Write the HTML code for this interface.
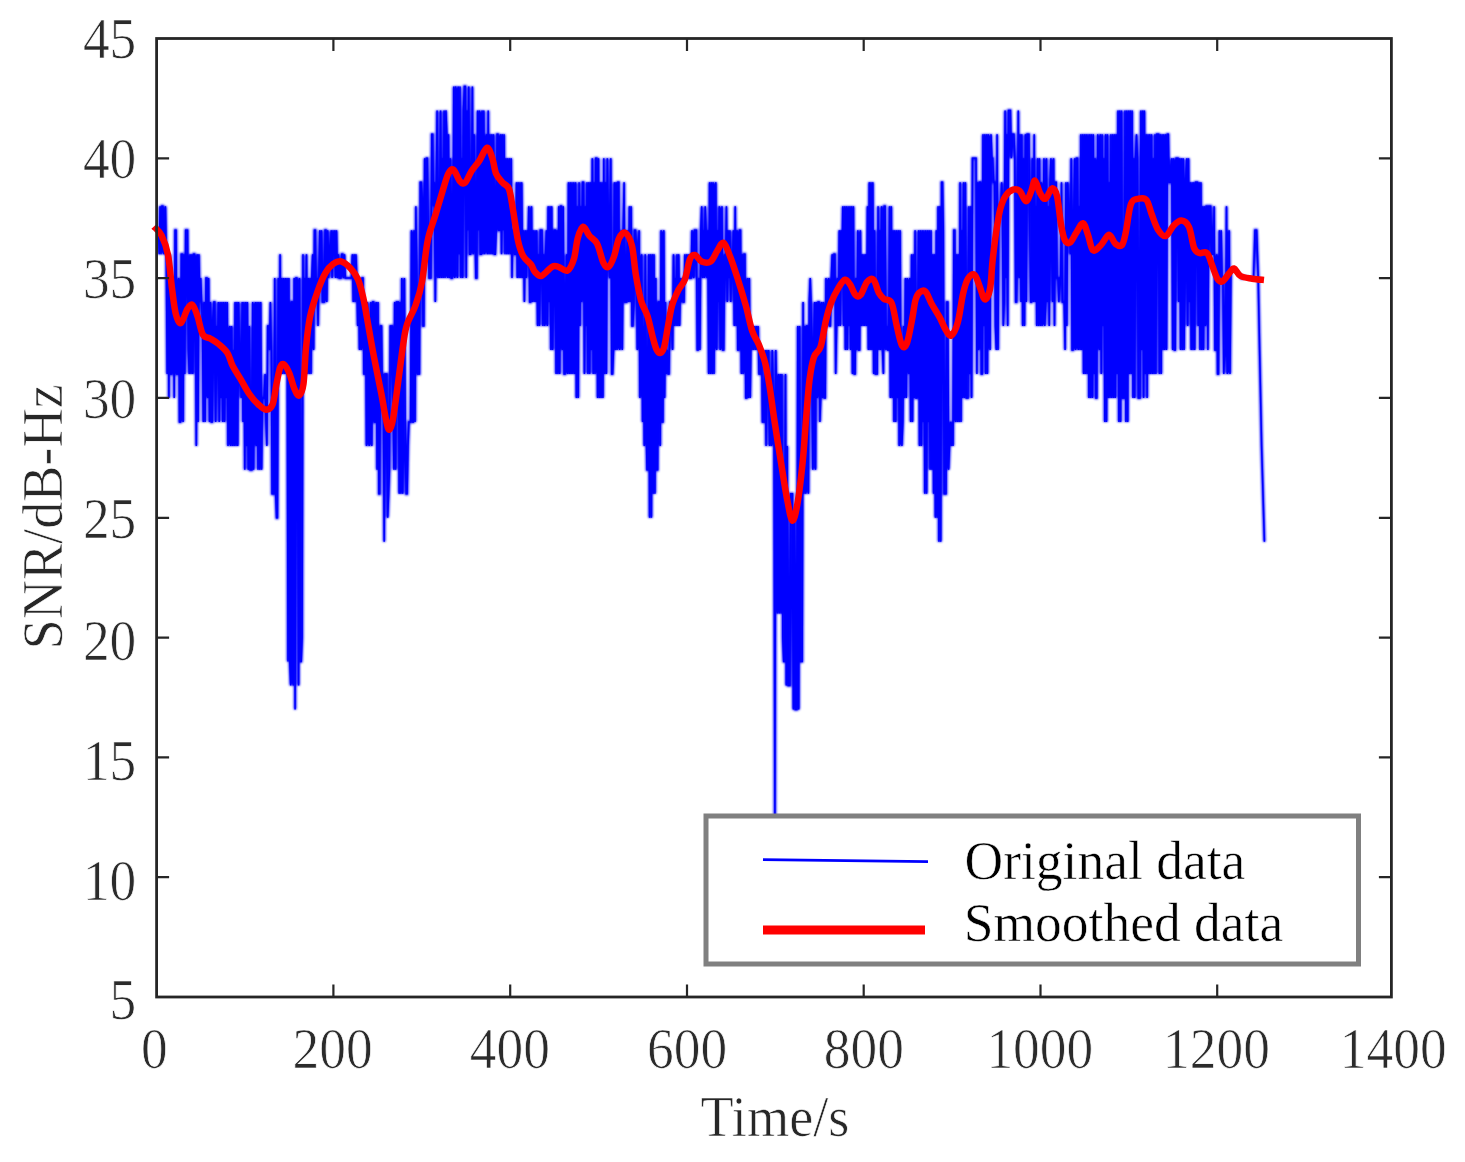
<!DOCTYPE html>
<html lang="en"><head><meta charset="utf-8"><title>SNR smoothing</title>
<style>
html,body{margin:0;padding:0;background:#fff;}
body{width:1465px;height:1162px;overflow:hidden;}
svg{display:block;}
text{font-family:"Liberation Serif","DejaVu Serif",serif;}
.tick{font-size:53.4px;fill:#2b2b2b;stroke:#fff;stroke-width:0.7px;paint-order:fill stroke;}
.lab{font-size:54.3px;fill:#272727;stroke:#fff;stroke-width:0.65px;paint-order:fill stroke;}
.leg{font-size:53.5px;fill:#000;stroke:#fff;stroke-width:0.55px;paint-order:fill stroke;}
</style></head><body>
<svg width="1465" height="1162" viewBox="0 0 1465 1162">
<defs><filter id="soft" x="-2%" y="-2%" width="104%" height="104%"><feGaussianBlur stdDeviation="0.8"/></filter>
<clipPath id="plot"><rect x="156.6" y="38.5" width="1234.8" height="958.5"/></clipPath></defs>
<rect width="1465" height="1162" fill="#fff"/>
<g>
<g clip-path="url(#plot)">
<defs><path id="orig" d="M156.6 230.2L157.5 230.2L158.4 230.2L159.2 254.2L160.1 206.2L161.0 254.2L161.9 206.2L162.8 206.2L163.7 254.2L164.5 230.2L165.4 206.2L166.3 254.2L167.2 374.0L168.1 254.2L168.9 397.9L169.8 254.2L170.7 374.0L171.6 374.0L172.5 278.1L173.4 278.1L174.2 397.9L175.1 230.2L176.0 230.2L176.9 374.0L177.8 374.0L178.7 278.1L179.5 421.9L180.4 421.9L181.3 254.2L182.2 254.2L183.1 421.9L183.9 254.2L184.8 374.0L185.7 230.2L186.6 230.2L187.5 230.2L188.4 350.0L189.2 374.0L190.1 254.2L191.0 374.0L191.9 254.2L192.8 374.0L193.6 254.2L194.5 254.2L195.4 278.1L196.3 445.9L197.2 254.2L198.1 421.9L198.9 254.2L199.8 302.1L200.7 278.1L201.6 302.1L202.5 326.0L203.3 421.9L204.2 302.1L205.1 421.9L206.0 278.1L206.9 278.1L207.8 397.9L208.6 278.1L209.5 421.9L210.4 302.1L211.3 421.9L212.2 421.9L213.0 326.0L213.9 302.1L214.8 302.1L215.7 421.9L216.6 326.0L217.5 374.0L218.3 302.1L219.2 421.9L220.1 302.1L221.0 397.9L221.9 302.1L222.8 421.9L223.6 302.1L224.5 421.9L225.4 302.1L226.3 397.9L227.2 302.1L228.0 445.9L228.9 374.0L229.8 326.0L230.7 445.9L231.6 326.0L232.5 445.9L233.3 350.0L234.2 445.9L235.1 302.1L236.0 445.9L236.9 302.1L237.7 445.9L238.6 302.1L239.5 374.0L240.4 374.0L241.3 397.9L242.2 302.1L243.0 421.9L243.9 302.1L244.8 469.8L245.7 302.1L246.6 445.9L247.4 302.1L248.3 469.8L249.2 326.0L250.1 469.8L251.0 469.8L251.9 469.8L252.7 302.1L253.6 469.8L254.5 350.0L255.4 302.1L256.3 445.9L257.1 302.1L258.0 469.8L258.9 302.1L259.8 469.8L260.7 302.1L261.6 469.8L262.4 397.9L263.3 397.9L264.2 397.9L265.1 374.0L266.0 421.9L266.9 445.9L267.7 326.0L268.6 326.0L269.5 350.0L270.4 302.1L271.3 350.0L272.1 493.8L273.0 493.8L273.9 493.8L274.8 278.1L275.7 493.8L276.6 517.8L277.4 517.8L278.3 278.1L279.2 374.0L280.1 254.2L281.0 374.0L281.8 278.1L282.7 374.0L283.6 278.1L284.5 374.0L285.4 278.1L286.3 374.0L287.1 278.1L288.0 661.5L288.9 278.1L289.8 661.5L290.7 685.5L291.5 302.1L292.4 302.1L293.3 685.5L294.2 278.1L295.1 709.4L296.0 278.1L296.8 278.1L297.7 302.1L298.6 685.5L299.5 278.1L300.4 661.5L301.2 661.5L302.1 637.6L303.0 254.2L303.9 374.0L304.8 278.1L305.7 374.0L306.5 254.2L307.4 374.0L308.3 278.1L309.2 374.0L310.1 278.1L311.0 374.0L311.8 278.1L312.7 254.2L313.6 350.0L314.5 230.2L315.4 230.2L316.2 302.1L317.1 278.1L318.0 326.0L318.9 278.1L319.8 230.2L320.7 278.1L321.5 230.2L322.4 302.1L323.3 302.1L324.2 302.1L325.1 230.2L325.9 230.2L326.8 302.1L327.7 230.2L328.6 278.1L329.5 254.2L330.4 254.2L331.2 230.2L332.1 278.1L333.0 230.2L333.9 254.2L334.8 230.2L335.6 278.1L336.5 230.2L337.4 278.1L338.3 254.2L339.2 278.1L340.1 278.1L340.9 278.1L341.8 254.2L342.7 254.2L343.6 278.1L344.5 254.2L345.3 278.1L346.2 278.1L347.1 278.1L348.0 278.1L348.9 278.1L349.8 278.1L350.6 278.1L351.5 278.1L352.4 254.2L353.3 302.1L354.2 254.2L355.1 302.1L355.9 254.2L356.8 278.1L357.7 326.0L358.6 278.1L359.5 350.0L360.3 278.1L361.2 350.0L362.1 278.1L363.0 278.1L363.9 374.0L364.8 374.0L365.6 302.1L366.5 445.9L367.4 302.1L368.3 350.0L369.2 445.9L370.0 374.0L370.9 302.1L371.8 445.9L372.7 302.1L373.6 302.1L374.5 421.9L375.3 421.9L376.2 302.1L377.1 469.8L378.0 302.1L378.9 493.8L379.7 493.8L380.6 326.0L381.5 326.0L382.4 397.9L383.3 374.0L384.2 541.7L385.0 374.0L385.9 374.0L386.8 374.0L387.7 517.8L388.6 493.8L389.4 469.8L390.3 326.0L391.2 326.0L392.1 326.0L393.0 397.9L393.9 469.8L394.7 302.1L395.6 469.8L396.5 302.1L397.4 302.1L398.3 302.1L399.2 493.8L400.0 302.1L400.9 493.8L401.8 278.1L402.7 493.8L403.6 326.0L404.4 278.1L405.3 445.9L406.2 493.8L407.1 493.8L408.0 445.9L408.9 421.9L409.7 421.9L410.6 421.9L411.5 230.2L412.4 421.9L413.3 421.9L414.1 230.2L415.0 421.9L415.9 206.2L416.8 278.1L417.7 374.0L418.6 374.0L419.4 374.0L420.3 182.3L421.2 182.3L422.1 206.2L423.0 326.0L423.8 326.0L424.7 158.3L425.6 254.2L426.5 158.3L427.4 158.3L428.3 230.2L429.1 278.1L430.0 278.1L430.9 278.1L431.8 134.3L432.7 134.3L433.5 206.2L434.4 182.3L435.3 302.1L436.2 206.2L437.1 110.4L438.0 278.1L438.8 182.3L439.7 278.1L440.6 110.4L441.5 278.1L442.4 158.3L443.2 278.1L444.1 110.4L445.0 278.1L445.9 110.4L446.8 134.3L447.7 278.1L448.5 134.3L449.4 278.1L450.3 158.3L451.2 278.1L452.1 278.1L453.0 254.2L453.8 86.4L454.7 278.1L455.6 86.4L456.5 110.4L457.4 278.1L458.2 86.4L459.1 254.2L460.0 86.4L460.9 278.1L461.8 158.3L462.7 278.1L463.5 110.4L464.4 86.4L465.3 86.4L466.2 278.1L467.1 110.4L467.9 230.2L468.8 86.4L469.7 254.2L470.6 254.2L471.5 230.2L472.4 86.4L473.2 254.2L474.1 134.3L475.0 230.2L475.9 278.1L476.8 278.1L477.6 110.4L478.5 230.2L479.4 110.4L480.3 254.2L481.2 254.2L482.1 110.4L482.9 254.2L483.8 110.4L484.7 254.2L485.6 230.2L486.5 134.3L487.4 254.2L488.2 110.4L489.1 254.2L490.0 134.3L490.9 254.2L491.8 134.3L492.6 254.2L493.5 134.3L494.4 254.2L495.3 254.2L496.2 230.2L497.1 134.3L497.9 134.3L498.8 230.2L499.7 230.2L500.6 134.3L501.5 254.2L502.3 134.3L503.2 230.2L504.1 134.3L505.0 254.2L505.9 158.3L506.8 254.2L507.6 158.3L508.5 254.2L509.4 158.3L510.3 254.2L511.2 158.3L512.0 278.1L512.9 230.2L513.8 230.2L514.7 254.2L515.6 254.2L516.5 182.3L517.3 278.1L518.2 182.3L519.1 278.1L520.0 182.3L520.9 278.1L521.7 182.3L522.6 278.1L523.5 230.2L524.4 302.1L525.3 230.2L526.2 278.1L527.0 230.2L527.9 254.2L528.8 206.2L529.7 302.1L530.6 302.1L531.5 206.2L532.3 302.1L533.2 230.2L534.1 302.1L535.0 230.2L535.9 302.1L536.7 230.2L537.6 326.0L538.5 254.2L539.4 326.0L540.3 230.2L541.2 230.2L542.0 230.2L542.9 326.0L543.8 254.2L544.7 326.0L545.6 254.2L546.4 230.2L547.3 326.0L548.2 206.2L549.1 302.1L550.0 206.2L550.9 350.0L551.7 206.2L552.6 350.0L553.5 254.2L554.4 230.2L555.3 230.2L556.1 374.0L557.0 230.2L557.9 374.0L558.8 206.2L559.7 374.0L560.6 206.2L561.4 206.2L562.3 350.0L563.2 206.2L564.1 374.0L565.0 374.0L565.8 326.0L566.7 254.2L567.6 374.0L568.5 182.3L569.4 374.0L570.3 182.3L571.1 374.0L572.0 182.3L572.9 374.0L573.8 182.3L574.7 374.0L575.6 182.3L576.4 397.9L577.3 206.2L578.2 397.9L579.1 182.3L580.0 326.0L580.8 206.2L581.7 302.1L582.6 182.3L583.5 182.3L584.4 374.0L585.3 206.2L586.1 326.0L587.0 182.3L587.9 374.0L588.8 182.3L589.7 374.0L590.5 182.3L591.4 350.0L592.3 158.3L593.2 374.0L594.1 182.3L595.0 374.0L595.8 158.3L596.7 158.3L597.6 397.9L598.5 158.3L599.4 397.9L600.2 182.3L601.1 397.9L602.0 182.3L602.9 397.9L603.8 158.3L604.7 374.0L605.5 182.3L606.4 374.0L607.3 158.3L608.2 254.2L609.1 254.2L609.9 278.1L610.8 158.3L611.7 374.0L612.6 374.0L613.5 350.0L614.4 182.3L615.2 350.0L616.1 182.3L617.0 350.0L617.9 182.3L618.8 182.3L619.7 350.0L620.5 278.1L621.4 230.2L622.3 350.0L623.2 230.2L624.1 182.3L624.9 302.1L625.8 302.1L626.7 302.1L627.6 230.2L628.5 302.1L629.4 206.2L630.2 302.1L631.1 206.2L632.0 326.0L632.9 326.0L633.8 302.1L634.6 230.2L635.5 230.2L636.4 254.2L637.3 350.0L638.2 254.2L639.1 230.2L639.9 397.9L640.8 374.0L641.7 254.2L642.6 421.9L643.5 326.0L644.3 445.9L645.2 254.2L646.1 421.9L647.0 469.8L647.9 469.8L648.8 254.2L649.6 517.8L650.5 254.2L651.4 517.8L652.3 254.2L653.2 493.8L654.0 254.2L654.9 493.8L655.8 278.1L656.7 469.8L657.6 469.8L658.5 302.1L659.3 302.1L660.2 445.9L661.1 230.2L662.0 421.9L662.9 421.9L663.8 230.2L664.6 397.9L665.5 302.1L666.4 374.0L667.3 350.0L668.2 374.0L669.0 374.0L669.9 302.1L670.8 302.1L671.7 302.1L672.6 350.0L673.5 254.2L674.3 326.0L675.2 278.1L676.1 326.0L677.0 254.2L677.9 326.0L678.7 254.2L679.6 326.0L680.5 278.1L681.4 302.1L682.3 278.1L683.2 302.1L684.0 302.1L684.9 254.2L685.8 278.1L686.7 254.2L687.6 278.1L688.4 254.2L689.3 278.1L690.2 278.1L691.1 278.1L692.0 230.2L692.9 254.2L693.7 278.1L694.6 230.2L695.5 230.2L696.4 230.2L697.3 350.0L698.1 350.0L699.0 278.1L699.9 350.0L700.8 230.2L701.7 206.2L702.6 278.1L703.4 230.2L704.3 278.1L705.2 206.2L706.1 230.2L707.0 278.1L707.9 230.2L708.7 374.0L709.6 182.3L710.5 374.0L711.4 182.3L712.3 374.0L713.1 182.3L714.0 374.0L714.9 230.2L715.8 182.3L716.7 350.0L717.6 230.2L718.4 302.1L719.3 206.2L720.2 350.0L721.1 230.2L722.0 206.2L722.8 350.0L723.7 350.0L724.6 254.2L725.5 278.1L726.4 206.2L727.3 302.1L728.1 230.2L729.0 278.1L729.9 230.2L730.8 302.1L731.7 254.2L732.5 278.1L733.4 230.2L734.3 326.0L735.2 206.2L736.1 326.0L737.0 230.2L737.8 350.0L738.7 350.0L739.6 230.2L740.5 230.2L741.4 374.0L742.2 254.2L743.1 374.0L744.0 254.2L744.9 254.2L745.8 397.9L746.7 397.9L747.5 278.1L748.4 397.9L749.3 278.1L750.2 397.9L751.1 326.0L752.0 350.0L752.8 326.0L753.7 350.0L754.6 326.0L755.5 350.0L756.4 326.0L757.2 350.0L758.1 326.0L759.0 374.0L759.9 374.0L760.8 374.0L761.7 350.0L762.5 421.9L763.4 421.9L764.3 421.9L765.2 350.0L766.1 445.9L766.9 350.0L767.8 397.9L768.7 350.0L769.6 445.9L770.5 397.9L771.4 445.9L772.2 350.0L773.1 397.9L774.0 397.9L774.9 829.3L775.8 350.0L776.6 397.9L777.5 613.6L778.4 374.0L779.3 613.6L780.2 374.0L781.1 613.6L781.9 374.0L782.8 637.6L783.7 661.5L784.6 661.5L785.5 374.0L786.3 685.5L787.2 445.9L788.1 685.5L789.0 685.5L789.9 685.5L790.8 493.8L791.6 493.8L792.5 493.8L793.4 709.4L794.3 517.8L795.2 709.4L796.1 709.4L796.9 709.4L797.8 326.0L798.7 709.4L799.6 326.0L800.5 661.5L801.3 661.5L802.2 661.5L803.1 302.1L804.0 493.8L804.9 326.0L805.8 493.8L806.6 326.0L807.5 326.0L808.4 493.8L809.3 302.1L810.2 278.1L811.0 302.1L811.9 374.0L812.8 469.8L813.7 374.0L814.6 302.1L815.5 469.8L816.3 302.1L817.2 397.9L818.1 302.1L819.0 302.1L819.9 421.9L820.7 397.9L821.6 302.1L822.5 397.9L823.4 302.1L824.3 397.9L825.2 397.9L826.0 278.1L826.9 326.0L827.8 302.1L828.7 278.1L829.6 326.0L830.4 326.0L831.3 278.1L832.2 254.2L833.1 302.1L834.0 254.2L834.9 254.2L835.7 374.0L836.6 326.0L837.5 278.1L838.4 326.0L839.3 230.2L840.2 326.0L841.0 230.2L841.9 278.1L842.8 206.2L843.7 326.0L844.6 206.2L845.4 350.0L846.3 206.2L847.2 350.0L848.1 206.2L849.0 326.0L849.9 206.2L850.7 350.0L851.6 206.2L852.5 374.0L853.4 206.2L854.3 374.0L855.1 374.0L856.0 278.1L856.9 350.0L857.8 230.2L858.7 350.0L859.6 350.0L860.4 230.2L861.3 326.0L862.2 254.2L863.1 326.0L864.0 254.2L864.8 326.0L865.7 254.2L866.6 326.0L867.5 206.2L868.4 350.0L869.3 182.3L870.1 350.0L871.0 182.3L871.9 350.0L872.8 182.3L873.7 374.0L874.5 230.2L875.4 374.0L876.3 374.0L877.2 374.0L878.1 206.2L879.0 350.0L879.8 230.2L880.7 350.0L881.6 206.2L882.5 350.0L883.4 374.0L884.3 206.2L885.1 206.2L886.0 350.0L886.9 326.0L887.8 350.0L888.7 350.0L889.5 206.2L890.4 397.9L891.3 206.2L892.2 397.9L893.1 230.2L894.0 421.9L894.8 230.2L895.7 421.9L896.6 230.2L897.5 397.9L898.4 230.2L899.2 445.9L900.1 230.2L901.0 397.9L901.9 445.9L902.8 421.9L903.7 326.0L904.5 397.9L905.4 278.1L906.3 397.9L907.2 278.1L908.1 302.1L908.9 374.0L909.8 278.1L910.7 421.9L911.6 254.2L912.5 421.9L913.4 254.2L914.2 397.9L915.1 230.2L916.0 397.9L916.9 397.9L917.8 374.0L918.6 230.2L919.5 445.9L920.4 230.2L921.3 445.9L922.2 230.2L923.1 421.9L923.9 230.2L924.8 493.8L925.7 230.2L926.6 493.8L927.5 230.2L928.4 421.9L929.2 230.2L930.1 469.8L931.0 230.2L931.9 469.8L932.8 254.2L933.6 493.8L934.5 254.2L935.4 517.8L936.3 230.2L937.2 517.8L938.1 206.2L938.9 541.7L939.8 206.2L940.7 541.7L941.6 182.3L942.5 182.3L943.3 230.2L944.2 493.8L945.1 493.8L946.0 493.8L946.9 302.1L947.8 302.1L948.6 469.8L949.5 445.9L950.4 421.9L951.3 445.9L952.2 421.9L953.0 445.9L953.9 230.2L954.8 230.2L955.7 421.9L956.6 254.2L957.5 421.9L958.3 254.2L959.2 421.9L960.1 182.3L961.0 421.9L961.9 230.2L962.7 397.9L963.6 182.3L964.5 397.9L965.4 182.3L966.3 397.9L967.2 397.9L968.0 397.9L968.9 206.2L969.8 374.0L970.7 206.2L971.6 397.9L972.5 158.3L973.3 158.3L974.2 158.3L975.1 158.3L976.0 158.3L976.9 374.0L977.7 182.3L978.6 350.0L979.5 182.3L980.4 182.3L981.3 374.0L982.2 374.0L983.0 134.3L983.9 326.0L984.8 134.3L985.7 374.0L986.6 134.3L987.4 374.0L988.3 134.3L989.2 326.0L990.1 350.0L991.0 134.3L991.9 158.3L992.7 158.3L993.6 182.3L994.5 182.3L995.4 326.0L996.3 350.0L997.1 134.3L998.0 350.0L998.9 206.2L999.8 206.2L1000.7 206.2L1001.6 182.3L1002.4 206.2L1003.3 326.0L1004.2 302.1L1005.1 110.4L1006.0 278.1L1006.8 134.3L1007.7 326.0L1008.6 110.4L1009.5 110.4L1010.4 110.4L1011.3 158.3L1012.1 134.3L1013.0 134.3L1013.9 134.3L1014.8 158.3L1015.7 302.1L1016.6 302.1L1017.4 254.2L1018.3 110.4L1019.2 278.1L1020.1 134.3L1021.0 302.1L1021.8 134.3L1022.7 326.0L1023.6 158.3L1024.5 326.0L1025.4 134.3L1026.3 302.1L1027.1 134.3L1028.0 134.3L1028.9 134.3L1029.8 230.2L1030.7 302.1L1031.5 302.1L1032.4 158.3L1033.3 302.1L1034.2 134.3L1035.1 302.1L1036.0 206.2L1036.8 326.0L1037.7 158.3L1038.6 326.0L1039.5 158.3L1040.4 326.0L1041.2 182.3L1042.1 326.0L1043.0 278.1L1043.9 158.3L1044.8 326.0L1045.7 302.1L1046.5 158.3L1047.4 302.1L1048.3 206.2L1049.2 326.0L1050.1 182.3L1050.9 158.3L1051.8 206.2L1052.7 302.1L1053.6 158.3L1054.5 326.0L1055.4 182.3L1056.2 182.3L1057.1 278.1L1058.0 278.1L1058.9 302.1L1059.8 278.1L1060.7 278.1L1061.5 182.3L1062.4 302.1L1063.3 302.1L1064.2 302.1L1065.1 350.0L1065.9 182.3L1066.8 326.0L1067.7 182.3L1068.6 230.2L1069.5 206.2L1070.4 254.2L1071.2 158.3L1072.1 350.0L1073.0 350.0L1073.9 230.2L1074.8 158.3L1075.6 350.0L1076.5 158.3L1077.4 158.3L1078.3 350.0L1079.2 206.2L1080.1 350.0L1080.9 134.3L1081.8 350.0L1082.7 134.3L1083.6 374.0L1084.5 134.3L1085.3 374.0L1086.2 134.3L1087.1 374.0L1088.0 134.3L1088.9 397.9L1089.8 134.3L1090.6 397.9L1091.5 134.3L1092.4 397.9L1093.3 134.3L1094.2 374.0L1095.0 158.3L1095.9 397.9L1096.8 397.9L1097.7 134.3L1098.6 158.3L1099.5 350.0L1100.3 134.3L1101.2 374.0L1102.1 134.3L1103.0 326.0L1103.9 158.3L1104.8 421.9L1105.6 134.3L1106.5 421.9L1107.4 134.3L1108.3 397.9L1109.2 182.3L1110.0 397.9L1110.9 134.3L1111.8 397.9L1112.7 134.3L1113.6 397.9L1114.5 134.3L1115.3 397.9L1116.2 134.3L1117.1 374.0L1118.0 110.4L1118.9 421.9L1119.7 110.4L1120.6 421.9L1121.5 110.4L1122.4 397.9L1123.3 397.9L1124.2 397.9L1125.0 110.4L1125.9 421.9L1126.8 110.4L1127.7 421.9L1128.6 110.4L1129.4 374.0L1130.3 110.4L1131.2 374.0L1132.1 110.4L1133.0 397.9L1133.9 158.3L1134.7 397.9L1135.6 158.3L1136.5 134.3L1137.4 158.3L1138.3 397.9L1139.1 397.9L1140.0 397.9L1140.9 110.4L1141.8 350.0L1142.7 110.4L1143.6 397.9L1144.4 110.4L1145.3 374.0L1146.2 134.3L1147.1 397.9L1148.0 134.3L1148.9 374.0L1149.7 134.3L1150.6 374.0L1151.5 134.3L1152.4 374.0L1153.3 158.3L1154.1 374.0L1155.0 134.3L1155.9 374.0L1156.8 134.3L1157.7 134.3L1158.6 134.3L1159.4 374.0L1160.3 134.3L1161.2 374.0L1162.1 134.3L1163.0 350.0L1163.8 134.3L1164.7 350.0L1165.6 134.3L1166.5 350.0L1167.4 134.3L1168.3 134.3L1169.1 182.3L1170.0 182.3L1170.9 182.3L1171.8 158.3L1172.7 350.0L1173.5 158.3L1174.4 350.0L1175.3 350.0L1176.2 158.3L1177.1 158.3L1178.0 158.3L1178.8 302.1L1179.7 158.3L1180.6 350.0L1181.5 158.3L1182.4 350.0L1183.2 158.3L1184.1 350.0L1185.0 254.2L1185.9 182.3L1186.8 158.3L1187.7 326.0L1188.5 158.3L1189.4 302.1L1190.3 182.3L1191.2 350.0L1192.1 182.3L1193.0 350.0L1193.8 182.3L1194.7 350.0L1195.6 182.3L1196.5 182.3L1197.4 182.3L1198.2 326.0L1199.1 182.3L1200.0 350.0L1200.9 182.3L1201.8 350.0L1202.7 206.2L1203.5 350.0L1204.4 206.2L1205.3 326.0L1206.2 206.2L1207.1 206.2L1207.9 350.0L1208.8 206.2L1209.7 206.2L1210.6 206.2L1211.5 254.2L1212.4 254.2L1213.2 254.2L1214.1 206.2L1215.0 350.0L1215.9 350.0L1216.8 254.2L1217.6 374.0L1218.5 374.0L1219.4 230.2L1220.3 278.1L1221.2 230.2L1222.1 278.1L1222.9 278.1L1223.8 374.0L1224.7 350.0L1225.6 350.0L1226.5 206.2L1227.3 374.0L1228.2 326.0L1229.1 230.2L1230.0 374.0L1230.9 271.6L1231.8 270.7L1232.6 269.8L1233.5 268.9L1234.4 268.9L1235.3 269.9L1236.2 270.9L1237.0 271.9L1237.9 272.9L1238.8 273.9L1239.7 275.0L1240.6 276.0L1241.5 278.1L1242.3 278.1L1243.2 276.6L1244.1 276.8L1245.0 277.0L1245.9 277.2L1246.8 277.4L1247.6 277.6L1248.5 277.8L1249.4 278.0L1250.3 278.2L1251.2 278.4L1252.0 278.6L1252.9 278.8L1253.6 276.9L1255.0 230.2L1256.6 230.2L1258.2 278.1L1259.6 350.0L1261.6 445.9L1264.4 541.7"/></defs>
<use href="#orig" fill="none" stroke="#0000ff" stroke-width="2.7" stroke-linejoin="miter" stroke-miterlimit="2" filter="url(#soft)"/>
<use href="#orig" fill="none" stroke="#0000ff" stroke-width="1.5" stroke-linejoin="miter" stroke-miterlimit="2"/>
</g>
<path d="M153.9 226.5C155.2 228.0 159.2 230.8 161.6 235.5C163.9 240.2 166.3 246.0 168.0 254.8C169.7 263.6 170.7 278.5 172.0 288.4C173.3 298.3 174.3 308.2 175.8 314.0C177.3 319.8 179.1 323.8 181.0 323.0C182.9 322.2 185.5 312.0 187.4 309.0C189.3 306.0 190.9 303.7 192.6 305.0C194.3 306.3 196.0 311.8 197.7 316.8C199.4 321.8 200.8 331.2 203.0 334.8C205.2 338.4 208.0 337.2 210.6 338.7C213.2 340.2 215.6 341.5 218.4 343.9C221.2 346.3 225.0 349.2 227.4 352.9C229.8 356.5 230.4 361.5 232.6 365.8C234.8 370.1 237.5 374.0 240.3 378.7C243.1 383.4 246.4 389.9 249.4 394.2C252.4 398.5 255.6 401.9 258.4 404.5C261.2 407.1 263.6 409.7 266.0 409.7C268.4 409.7 270.9 408.8 272.6 404.5C274.4 400.2 275.2 390.1 276.5 383.9C277.8 377.6 279.0 370.2 280.3 367.0C281.6 363.8 282.7 363.4 284.2 364.5C285.7 365.6 287.7 369.4 289.4 373.5C291.1 377.6 292.9 385.3 294.5 389.0C296.1 392.7 297.7 396.4 299.2 395.5C300.7 394.6 302.4 391.9 303.5 383.9C304.6 375.9 304.9 358.9 306.0 347.7C307.1 336.5 308.1 326.2 310.0 316.8C311.9 307.4 315.1 298.3 317.7 291.0C320.3 283.7 322.9 277.4 325.5 272.9C328.1 268.4 330.6 265.8 333.2 263.9C335.8 262.0 338.1 260.6 341.0 261.3C343.9 262.0 347.5 265.0 350.3 268.0C353.1 271.0 355.9 274.5 358.0 279.4C360.1 284.3 361.7 291.0 363.2 297.4C364.7 303.8 365.3 308.5 367.0 318.0C368.7 327.5 371.1 341.9 373.5 354.5C375.9 367.1 379.1 382.2 381.3 393.5C383.5 404.8 385.1 416.0 386.5 422.0C387.9 428.0 388.4 430.1 389.5 429.7C390.6 429.3 391.6 427.1 393.0 419.4C394.4 411.6 396.3 395.7 398.0 383.2C399.7 370.7 401.7 354.3 403.2 344.5C404.7 334.7 404.9 331.0 407.0 324.5C409.1 318.0 413.0 312.6 415.5 305.5C418.0 298.4 420.0 292.8 422.0 282.0C424.0 271.2 425.4 251.8 427.7 240.6C429.9 229.4 432.9 223.4 435.5 214.8C438.1 206.2 441.1 195.9 443.2 189.0C445.3 182.1 446.7 176.7 448.4 173.5C450.1 170.3 451.6 168.4 453.5 169.7C455.4 171.0 458.1 179.2 460.0 181.3C461.9 183.5 463.3 184.3 465.2 182.6C467.1 180.9 469.2 174.7 471.6 171.0C474.0 167.3 476.8 164.5 479.4 160.6C482.0 156.7 484.9 148.1 487.0 147.7C489.1 147.3 490.8 153.7 492.3 158.0C493.8 162.3 494.3 169.4 496.0 173.5C497.7 177.6 500.4 180.0 502.6 182.6C504.8 185.2 507.3 184.5 509.0 189.0C510.7 193.5 511.5 201.1 513.0 209.7C514.5 218.3 516.3 232.9 518.0 240.6C519.7 248.3 521.0 252.0 523.2 256.0C525.4 260.0 529.0 261.8 531.0 264.5C533.0 267.2 533.2 270.1 535.0 272.0C536.8 273.9 538.8 276.7 541.6 275.8C544.4 274.9 549.2 268.3 552.0 266.8C554.8 265.3 555.8 266.2 558.4 266.8C561.0 267.4 564.8 271.9 567.4 270.6C570.0 269.3 572.2 264.4 573.9 259.0C575.6 253.6 576.2 243.8 577.7 238.4C579.2 233.0 581.0 227.2 583.0 226.8C585.0 226.4 587.1 233.0 589.4 235.8C591.7 238.6 594.6 239.0 597.0 243.5C599.4 248.0 601.5 259.1 603.5 263.0C605.5 266.9 607.0 267.9 608.7 266.8C610.5 265.7 612.3 261.2 614.0 256.5C615.7 251.8 617.1 242.3 619.0 238.4C620.9 234.5 623.3 231.7 625.5 233.0C627.7 234.3 630.3 239.1 632.0 246.0C633.7 252.9 634.3 265.4 635.8 274.5C637.3 283.6 639.1 293.4 641.0 300.3C642.9 307.2 645.5 309.8 647.4 315.8C649.3 321.8 651.1 330.9 652.6 336.5C654.1 342.1 655.2 346.6 656.5 349.4C657.8 352.1 659.0 353.4 660.3 353.0C661.6 352.6 662.9 351.3 664.2 346.8C665.5 342.3 666.7 332.9 668.0 326.0C669.3 319.1 670.3 311.5 672.0 305.5C673.7 299.5 676.3 294.3 678.4 290.0C680.5 285.7 682.9 284.9 684.8 279.7C686.7 274.5 688.3 263.1 690.0 259.0C691.7 254.9 693.1 254.6 695.0 255.0C696.9 255.4 699.0 260.5 701.6 261.6C704.2 262.7 708.0 263.3 710.6 261.6C713.2 259.9 714.9 254.4 717.0 251.3C719.1 248.2 721.3 241.9 723.5 242.8C725.7 243.8 727.9 250.8 730.3 257.0C732.7 263.1 735.4 271.6 738.0 279.7C740.6 287.8 743.4 296.9 745.8 305.5C748.2 314.1 750.1 324.9 752.3 331.3C754.4 337.8 756.6 339.0 758.7 344.2C760.8 349.4 763.2 355.3 765.0 362.3C766.8 369.3 767.9 376.2 769.5 386.0C771.1 395.8 772.6 408.7 774.5 421.0C776.4 433.3 778.5 447.1 780.6 460.0C782.7 472.9 785.0 488.6 787.0 498.7C789.0 508.8 790.6 519.7 792.3 520.6C794.0 521.5 795.7 513.6 797.4 503.9C799.1 494.2 801.1 477.1 802.6 462.6C804.1 448.1 805.1 430.8 806.2 417.0C807.4 403.2 808.2 390.0 809.5 380.0C810.8 370.0 812.1 362.5 814.0 357.0C815.9 351.5 818.6 352.8 820.6 346.8C822.6 340.8 824.1 328.3 825.8 321.0C827.5 313.7 828.9 308.6 831.0 303.0C833.1 297.4 836.4 291.3 838.7 287.4C841.0 283.5 843.1 280.1 845.0 279.7C846.9 279.3 848.5 282.2 850.3 284.8C852.0 287.4 853.8 293.3 855.5 295.0C857.2 296.7 858.7 297.2 860.6 295.0C862.5 292.8 864.9 284.6 867.0 282.0C869.1 279.4 871.5 277.9 873.5 279.7C875.5 281.5 877.0 289.4 878.7 292.6C880.5 295.8 881.9 297.3 884.0 299.0C886.1 300.7 889.5 298.5 891.6 303.0C893.7 307.5 895.1 318.9 896.8 326.0C898.5 333.1 900.3 342.7 902.0 345.5C903.7 348.3 905.3 347.5 907.0 343.0C908.7 338.5 910.9 325.6 912.3 318.4C913.7 311.2 914.3 304.3 915.5 300.0C916.7 295.7 917.8 293.9 919.5 292.5C921.2 291.1 923.4 289.6 925.5 291.6C927.6 293.6 929.6 300.2 932.0 304.5C934.4 308.8 937.4 313.1 939.7 317.4C942.0 321.7 944.1 327.3 946.0 330.3C947.9 333.3 949.3 336.8 951.3 335.5C953.2 334.2 955.8 329.5 957.7 322.6C959.7 315.7 961.3 301.3 963.0 294.0C964.7 286.7 966.1 281.9 968.0 278.7C969.9 275.5 972.5 273.5 974.5 274.8C976.5 276.1 978.0 282.4 979.7 286.5C981.4 290.6 983.1 299.0 984.8 299.4C986.5 299.8 988.7 295.5 990.0 289.0C991.3 282.5 991.5 270.5 992.6 260.6C993.7 250.7 995.2 238.3 996.5 229.7C997.8 221.1 998.8 214.6 1000.3 209.0C1001.8 203.4 1003.4 199.2 1005.5 196.0C1007.6 192.8 1010.6 190.5 1013.0 189.7C1015.4 188.9 1017.5 189.1 1019.7 191.0C1021.9 192.9 1024.1 201.3 1026.0 201.3C1027.9 201.3 1029.8 194.4 1031.3 191.0C1032.8 187.6 1033.5 180.2 1035.0 180.6C1036.5 181.0 1038.5 190.5 1040.3 193.5C1042.0 196.5 1043.5 199.5 1045.5 198.7C1047.5 197.8 1050.1 188.8 1052.0 188.4C1053.9 188.0 1055.5 190.0 1057.0 196.0C1058.5 202.0 1059.7 217.2 1061.0 224.5C1062.3 231.8 1063.3 237.0 1064.8 240.0C1066.3 243.0 1068.0 243.9 1070.0 242.6C1072.0 241.3 1074.3 235.5 1076.5 232.3C1078.7 229.1 1081.1 222.8 1083.0 223.2C1084.9 223.6 1086.3 230.3 1088.0 234.8C1089.7 239.3 1090.8 248.6 1093.0 250.3C1095.2 252.0 1098.3 247.6 1101.0 245.0C1103.7 242.4 1106.6 235.0 1109.0 234.8C1111.4 234.6 1113.3 242.2 1115.5 243.9C1117.7 245.6 1120.3 246.9 1122.0 245.0C1123.7 243.1 1124.3 239.2 1125.8 232.3C1127.3 225.5 1128.8 209.5 1131.0 203.9C1133.2 198.3 1136.1 199.3 1138.7 198.7C1141.3 198.0 1144.3 197.4 1146.5 200.0C1148.7 202.6 1149.7 209.1 1151.6 214.0C1153.5 218.9 1155.6 226.0 1158.0 229.7C1160.4 233.4 1163.2 236.7 1165.8 236.0C1168.4 235.3 1170.9 228.4 1173.5 225.8C1176.1 223.2 1178.7 220.4 1181.3 220.6C1183.9 220.8 1186.9 222.5 1189.0 227.0C1191.1 231.5 1192.3 243.4 1194.0 247.7C1195.7 252.0 1197.2 252.1 1199.4 253.0C1201.6 253.9 1204.8 250.9 1207.0 253.0C1209.2 255.1 1210.6 261.5 1212.3 265.8C1214.0 270.1 1215.7 276.1 1217.4 278.7C1219.1 281.3 1220.7 282.2 1222.6 281.3C1224.5 280.4 1227.1 275.6 1229.0 273.5C1230.9 271.4 1232.1 268.0 1234.0 268.4C1235.9 268.8 1237.5 274.3 1240.6 276.0C1243.6 277.7 1248.4 278.0 1252.3 278.7C1256.2 279.4 1262.0 279.8 1264.0 280.0" fill="none" stroke="#ff0000" stroke-width="6.5" stroke-linejoin="round" stroke-linecap="butt"/>
<rect x="156.6" y="38.5" width="1234.8" height="958.5" fill="none" stroke="#262626" stroke-width="2.8"/>
<path d="M333.4 997.0v-12.5M333.4 38.5v12.5M510.2 997.0v-12.5M510.2 38.5v12.5M687.0 997.0v-12.5M687.0 38.5v12.5M863.7 997.0v-12.5M863.7 38.5v12.5M1040.5 997.0v-12.5M1040.5 38.5v12.5M1217.2 997.0v-12.5M1217.2 38.5v12.5M156.6 877.2h12.5M1391.4 877.2h-12.5M156.6 757.4h12.5M1391.4 757.4h-12.5M156.6 637.6h12.5M1391.4 637.6h-12.5M156.6 517.8h12.5M1391.4 517.8h-12.5M156.6 397.9h12.5M1391.4 397.9h-12.5M156.6 278.1h12.5M1391.4 278.1h-12.5M156.6 158.3h12.5M1391.4 158.3h-12.5" fill="none" stroke="#262626" stroke-width="2.2"/>
<text class="tick" transform="translate(154.3 1067.8) scale(1 1.06)" text-anchor="middle">0</text>
<text class="tick" transform="translate(332.6 1067.8) scale(1 1.06)" text-anchor="middle">200</text>
<text class="tick" transform="translate(509.8 1067.8) scale(1 1.06)" text-anchor="middle">400</text>
<text class="tick" transform="translate(687.1 1067.8) scale(1 1.06)" text-anchor="middle">600</text>
<text class="tick" transform="translate(863.8 1067.8) scale(1 1.06)" text-anchor="middle">800</text>
<text class="tick" transform="translate(1039.8 1067.8) scale(1 1.06)" text-anchor="middle">1000</text>
<text class="tick" transform="translate(1216.5 1067.8) scale(1 1.06)" text-anchor="middle">1200</text>
<text class="tick" transform="translate(1393.2 1067.8) scale(1 1.06)" text-anchor="middle">1400</text>
<text class="tick" transform="translate(136.3 1019.4) scale(1 1.06)" text-anchor="end">5</text>
<text class="tick" transform="translate(136.3 899.6) scale(1 1.06)" text-anchor="end">10</text>
<text class="tick" transform="translate(136.3 779.8) scale(1 1.06)" text-anchor="end">15</text>
<text class="tick" transform="translate(136.3 660.0) scale(1 1.06)" text-anchor="end">20</text>
<text class="tick" transform="translate(136.3 537.5) scale(1 1.06)" text-anchor="end">25</text>
<text class="tick" transform="translate(136.3 417.7) scale(1 1.06)" text-anchor="end">30</text>
<text class="tick" transform="translate(136.3 297.9) scale(1 1.06)" text-anchor="end">35</text>
<text class="tick" transform="translate(136.3 178.1) scale(1 1.06)" text-anchor="end">40</text>
<text class="tick" transform="translate(136.3 58.3) scale(1 1.06)" text-anchor="end">45</text>
<text class="lab" transform="translate(775 1135.8) scale(1 1.04)" text-anchor="middle">Time/s</text>
<text class="lab" transform="translate(62 516.8) rotate(-90) scale(1 1.04)" text-anchor="middle">SNR/dB-Hz</text>
<rect x="706" y="816" width="652.5" height="148" fill="#fff" stroke="#808080" stroke-width="5"/>
<path d="M763 859.6L928 861.6" stroke="#0000ff" stroke-width="2.6" fill="none"/>
<path d="M763 930H925" stroke="#ff0000" stroke-width="9" fill="none"/>
<text class="leg" transform="translate(964.5 879) scale(1 1.04)">Original data</text>
<text class="leg" transform="translate(963.7 941.3) scale(1 1.04)">Smoothed data</text>
</g>
</svg>
</body></html>
